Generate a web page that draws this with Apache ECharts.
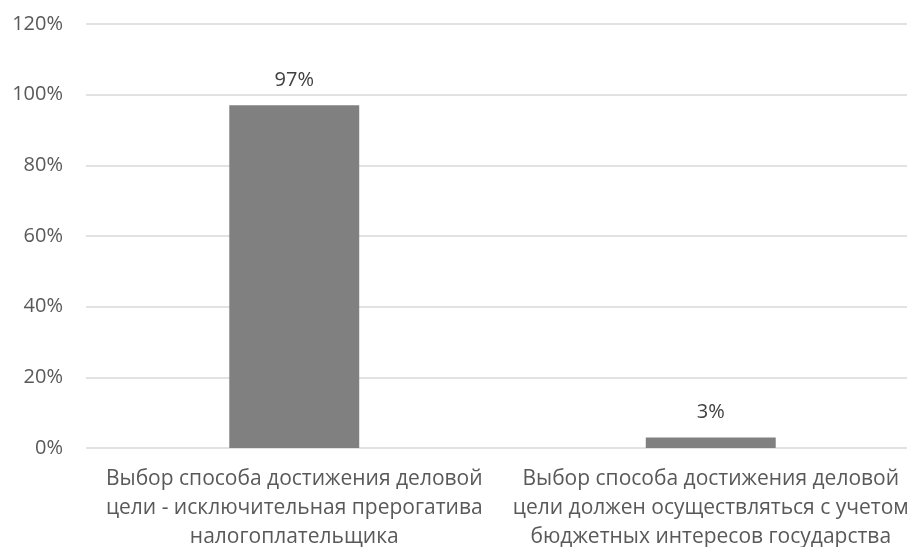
<!DOCTYPE html>
<html>
<head>
<meta charset="utf-8">
<script src="https://cdn.jsdelivr.net/npm/echarts@6/dist/echarts.min.js"></script>
<style>
  html, body { margin: 0; padding: 0; background: #ffffff; }
  #chart { width: 907px; height: 547px; }
</style>
</head>
<body>
<div id="chart"></div>
<script>
// Survey answers and their shares
const categories = [
  'Выбор способа достижения деловой\nцели - исключительная прерогатива\nналогоплательщика',
  'Выбор способа достижения деловой\nцели должен осуществляться с учетом\nбюджетных интересов государства'
];
const shares = [0.97, 0.03];
const yTicks = { min: 0, max: 1.2, interval: 0.2 };

const FONT = '"Open Sans", "Noto Sans", sans-serif';

const chart = echarts.init(document.getElementById('chart'), null, { renderer: 'canvas' });
chart.setOption({
  animation: false,
  backgroundColor: '#ffffff',
  // plot area runs slightly past the right edge of the canvas
  grid: {
    left: 86, width: 833, top: 24, bottom: 99,
    containLabel: false,
    outerBoundsMode: 'none'
  },
  xAxis: {
    type: 'category',
    data: categories,
    axisLine: { show: false },
    axisTick: { show: false },
    axisLabel: {
      interval: 0,
      margin: 17,
      color: '#595959',
      fontFamily: FONT,
      fontSize: 21,
      lineHeight: 29,
      hideOverlap: false
    }
  },
  yAxis: {
    type: 'value',
    min: yTicks.min,
    max: yTicks.max,
    interval: yTicks.interval,
    axisLine: { show: false },
    axisTick: { show: false },
    axisLabel: {
      margin: 23,
      color: '#595959',
      fontFamily: FONT,
      fontSize: 20,
      formatter: v => Math.round(v * 100) + '%'
    },
    splitLine: { lineStyle: { color: '#d9d9d9', width: 1.5 } }
  },
  series: [{
    type: 'bar',
    data: shares,
    barWidth: '31.2%',
    itemStyle: { color: '#808080' },
    label: {
      show: true,
      position: 'top',
      distance: 15,
      color: '#404040',
      fontFamily: FONT,
      fontSize: 20,
      formatter: p => Math.round(p.value * 100) + '%'
    }
  }]
});
</script>
</body>
</html>
